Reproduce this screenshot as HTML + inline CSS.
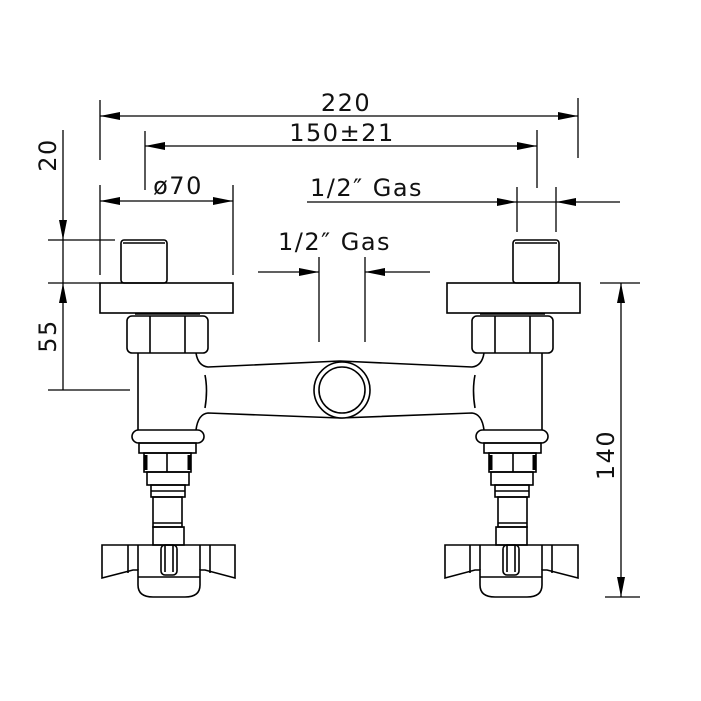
<!DOCTYPE html>
<html><head><style>
html,body{margin:0;padding:0;background:#fff;width:701px;height:701px;overflow:hidden}
svg{display:block}
text{font-family:"DejaVu Sans","Liberation Sans",sans-serif;font-size:24px;letter-spacing:1.5px;fill:#111}
</style></head><body>
<svg width="701" height="701" viewBox="0 0 701 701" xmlns="http://www.w3.org/2000/svg">
<defs>
<marker id="a" viewBox="0 0 20 8" refX="20" refY="4" markerWidth="20" markerHeight="8" markerUnits="userSpaceOnUse" orient="auto-start-reverse"><path d="M0,0 L20,4 L0,8 z" fill="#000"/></marker>
<g id="valve" fill="none" stroke="#000" stroke-width="1.6">
  <rect x="121" y="240" width="46" height="43" rx="3"/>
  <line x1="123" y1="243" x2="165" y2="243"/>
  <rect x="100" y="283" width="133" height="30"/>
  <rect x="127" y="316" width="81" height="37" rx="5"/>
  <line x1="150" y1="316" x2="150" y2="353"/><line x1="185" y1="316" x2="185" y2="353"/>
  <line x1="135" y1="314" x2="200" y2="314"/>
  <line x1="138" y1="353" x2="138" y2="430"/>
  <path d="M196,353 Q198,366 208,367 L340,361"/>
  <path d="M196,430 Q198,414 208,413 L340,418"/>
  <path d="M205,375 Q208,390 205,408"/>
  <rect x="132" y="430" width="72" height="13" rx="6.5"/>
  <rect x="139" y="443" width="57" height="10"/>
  <rect x="144" y="453" width="47" height="19"/>
  <line x1="167" y1="453" x2="167" y2="472"/>
  <line x1="146" y1="455" x2="146" y2="470" stroke-width="3"/><line x1="189" y1="455" x2="189" y2="470" stroke-width="3"/>
  <rect x="147" y="472" width="42" height="13"/>
  <rect x="151" y="485" width="34" height="12"/>
  <line x1="151" y1="491" x2="185" y2="491"/>
  <rect x="153" y="497" width="29" height="30"/>
  <line x1="153" y1="523" x2="182" y2="523"/>
  <rect x="153" y="527" width="31" height="18"/>
  <path d="M102,545 L235,545 L235,578 L205,570 L200,570 L200,585 Q200,597 185,597 L153,597 Q138,597 138,585 L138,570 L133,570 L102,578 Z"/>
  <line x1="128" y1="545" x2="128" y2="573"/><line x1="138" y1="545" x2="138" y2="570"/>
  <line x1="200" y1="545" x2="200" y2="570"/><line x1="210" y1="545" x2="210" y2="573"/>
  <line x1="138" y1="577" x2="200" y2="577"/>
  <rect x="161" y="545" width="16" height="30" rx="4"/>
  <line x1="165" y1="545" x2="165" y2="572"/><line x1="173" y1="545" x2="173" y2="572"/>
</g>
</defs>
<use href="#valve"/>
<use href="#valve" transform="translate(680,0) scale(-1,1)"/>
<g fill="none" stroke="#000" stroke-width="1.6">
  <circle cx="342" cy="390" r="28" fill="#fff"/>
  <circle cx="342" cy="390" r="23"/>
</g>
<g stroke="#000" stroke-width="1.3" fill="none">
  <line x1="100" y1="100" x2="100" y2="160"/><line x1="578" y1="98" x2="578" y2="158"/>
  <line x1="100" y1="116" x2="578" y2="116" marker-start="url(#a)" marker-end="url(#a)"/>
  <line x1="145" y1="131" x2="145" y2="190"/><line x1="537" y1="130" x2="537" y2="188"/>
  <line x1="145" y1="146" x2="537" y2="146" marker-start="url(#a)" marker-end="url(#a)"/>
  <line x1="100" y1="185" x2="100" y2="275"/><line x1="233" y1="185" x2="233" y2="275"/>
  <line x1="100" y1="201" x2="233" y2="201" marker-start="url(#a)" marker-end="url(#a)"/>
  <line x1="517" y1="187" x2="517" y2="232"/><line x1="556" y1="187" x2="556" y2="232"/>
  <line x1="307" y1="202" x2="517" y2="202" marker-end="url(#a)"/>
  <line x1="620" y1="202" x2="556" y2="202" marker-end="url(#a)"/>
  <line x1="517" y1="202" x2="556" y2="202"/>
  <line x1="319" y1="257" x2="319" y2="342"/><line x1="365" y1="257" x2="365" y2="342"/>
  <line x1="258" y1="272" x2="319" y2="272" marker-end="url(#a)"/>
  <line x1="430" y1="272" x2="365" y2="272" marker-end="url(#a)"/>
  <line x1="48" y1="240" x2="115" y2="240"/><line x1="48" y1="283" x2="100" y2="283"/>
  <line x1="48" y1="390" x2="130" y2="390"/>
  <line x1="63" y1="130" x2="63" y2="240" marker-end="url(#a)"/>
  <line x1="63" y1="240" x2="63" y2="283"/>
  <line x1="63" y1="390" x2="63" y2="283" marker-end="url(#a)"/>
  <line x1="600" y1="283" x2="640" y2="283"/><line x1="605" y1="597" x2="640" y2="597"/>
  <line x1="621" y1="283" x2="621" y2="597" marker-start="url(#a)" marker-end="url(#a)"/>
</g>
<text x="346" y="111" text-anchor="middle">220</text>
<text x="342" y="141" text-anchor="middle">150±21</text>
<text x="178" y="194" text-anchor="middle">ø70</text>
<text x="310" y="196">1/2″ Gas</text>
<text x="278" y="250">1/2″ Gas</text>
<text transform="translate(56,155) rotate(-90)" text-anchor="middle">20</text>
<text transform="translate(56,336) rotate(-90)" text-anchor="middle">55</text>
<text transform="translate(614,455) rotate(-90)" text-anchor="middle">140</text>
</svg>
</body></html>
